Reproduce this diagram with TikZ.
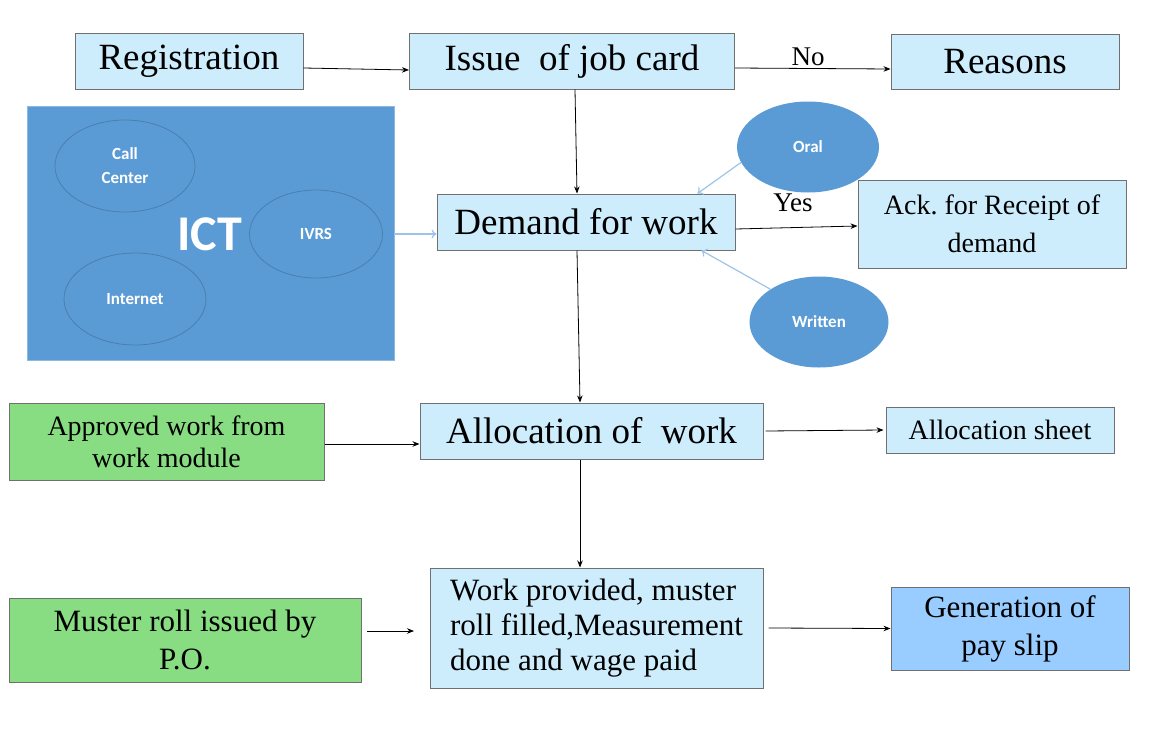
\documentclass[tikz,border=0pt]{standalone}
\usepackage{fontspec}
\setmainfont{Liberation Serif}
\newfontfamily\ellfont{Carlito}
\usetikzlibrary{shapes.geometric,arrows.meta}
\definecolor{boxblue}{HTML}{CDEDFC}
\definecolor{boxgreen}{HTML}{88DD82}
\definecolor{paydeep}{HTML}{99CCFF}
\definecolor{ictblue}{HTML}{5B9BD5}
\definecolor{ellline}{HTML}{4A7EB0}
\definecolor{lightarr}{HTML}{9DC3E6}
\definecolor{bordergray}{HTML}{707070}
\tikzset{
  mainbox/.style={draw=bordergray, line width=1pt, fill=boxblue, inner sep=0pt, align=center, font=\fontsize{37}{42}\selectfont},
  subbox/.style={draw=bordergray, line width=1pt, fill=boxblue, inner sep=0pt, align=center, font=\fontsize{28}{38}\selectfont},
  greenbox/.style={subbox, fill=boxgreen},
  ellin/.style={ellipse, draw=ellline, line width=0.8pt, fill=ictblue, inner sep=0pt, text=white, font=\ellfont\bfseries\fontsize{17}{24}\selectfont, align=center},
  ellout/.style={ellipse, draw=none, fill=ictblue, inner sep=0pt, text=white, font=\ellfont\bfseries\fontsize{17}{24}\selectfont},
  arr/.style={draw=black, line width=0.8pt, -{Stealth[length=7pt,width=5.5pt]}},
  larr/.style={draw=lightarr, line width=1.2pt, -{To[length=5pt,width=9pt]}},
  lbl/.style={inner sep=0pt, font=\fontsize{27}{30}\selectfont}
}
\begin{document}
\begin{tikzpicture}[x=1pt,y=-1pt]
\useasboundingbox (0,0) rectangle (1168,739);
% top row
\node[mainbox, minimum width=228pt, minimum height=56pt] (reg) at (189,61) {Registration};
\node[mainbox, minimum width=325pt, minimum height=56pt] (issue) at (572,61) {Issue\ \ of job card};
\node[mainbox, minimum width=228pt, minimum height=55pt] (reasons) at (1005,62) {Reasons};
% ICT block
\node[draw=ictblue!70!white, line width=0.6pt, fill=ictblue, minimum width=367pt, minimum height=254pt, inner sep=0pt] (ict) at (210.5,233) {};
\node[ellin, minimum width=140pt, minimum height=92pt] (call) at (125,166) {Call\\Center};
\node[ellin, minimum width=133pt, minimum height=88pt] (ivrs) at (316,234) {IVRS};
\node[ellin, minimum width=142pt, minimum height=92pt] (inet) at (135,299) {Internet};
\node[inner sep=0pt, text=white, font=\ellfont\bfseries\fontsize{50}{54}\selectfont] (ictlbl) at (210,234) {ICT};
% demand row
\node[mainbox, minimum width=298pt, minimum height=56pt] (dem) at (586,222) {Demand\ for work};
\node[ellout, minimum width=142pt, minimum height=91pt] (oral) at (808,147) {Oral};
\node[ellout, minimum width=139pt, minimum height=91pt] (writ) at (819,322) {Written};
\node[subbox, minimum width=268pt, minimum height=88pt] (ack) at (992,224) {Ack.\ for Receipt of\\demand};
% allocation row
\node[greenbox, minimum width=315pt, minimum height=77pt, font=\fontsize{28}{32}\selectfont] (appr) at (166.5,441.5) {Approved work from\\work module};
\node[mainbox, minimum width=343pt, minimum height=56pt] (alloc) at (591.5,431) {Allocation of\ \ work};
\node[subbox, minimum width=228pt, minimum height=46pt] (asheet) at (1000,430) {Allocation sheet};
% bottom row
\node[greenbox, minimum width=352pt, minimum height=84pt, font=\fontsize{31}{38}\selectfont] (must) at (185,640) {Muster roll issued by\\P.O.};
\node[subbox, minimum width=333pt, minimum height=120pt, font=\fontsize{31}{35}\selectfont] (wp) at (596.5,628) {\begin{tabular}{@{}l@{}}Work provided, muster\\roll filled,Measurement\\done and wage paid\end{tabular}};
\node[subbox, fill=paydeep, minimum width=238pt, minimum height=83pt, font=\fontsize{31}{38}\selectfont] (pay) at (1010,628.5) {Generation of\\pay slip};
% labels
\node[lbl] (no) at (808,57) {No};
\node[lbl] (yes) at (793,203) {Yes};
% connectors
\draw[arr] ([yshift=-7pt]reg.east) -- ([yshift=-9pt]issue.west);
\draw[arr] ([yshift=-7pt]issue.east) -- ([yshift=-7pt]reasons.west);
\draw[arr] ([xshift=3pt]issue.south) -- ([xshift=-9pt]dem.north);
\draw[arr] ([yshift=-7pt]dem.east) -- ([yshift=-2pt]ack.west);
\draw[larr] (ict.east |- ivrs) -- (dem.west |- ivrs);
\draw[larr] (oral.193) -- ([xshift=-38pt]dem.north east);
\draw[larr] (writ.146) -- ([xshift=-34pt]dem.south east);
\draw[arr] ([xshift=-9pt]dem.south) -- ([xshift=-11.5pt]alloc.north);
\draw[arr] ([yshift=-2.5pt]appr.east) -- (alloc.west |- {(0,444)});
\draw[arr] ([xshift=2pt]alloc.east) -- ([xshift=-2pt]asheet.west);
\draw[arr] ([xshift=-11.5pt]alloc.south) -- ([xshift=-16.5pt]wp.north);
\coordinate (m1) at (367,631);
\coordinate (m2) at (414,631);
\draw[arr] (m1) -- (m2);
\draw[arr] ([xshift=5pt]wp.east) -- (pay.west);
\end{tikzpicture}
\end{document}
